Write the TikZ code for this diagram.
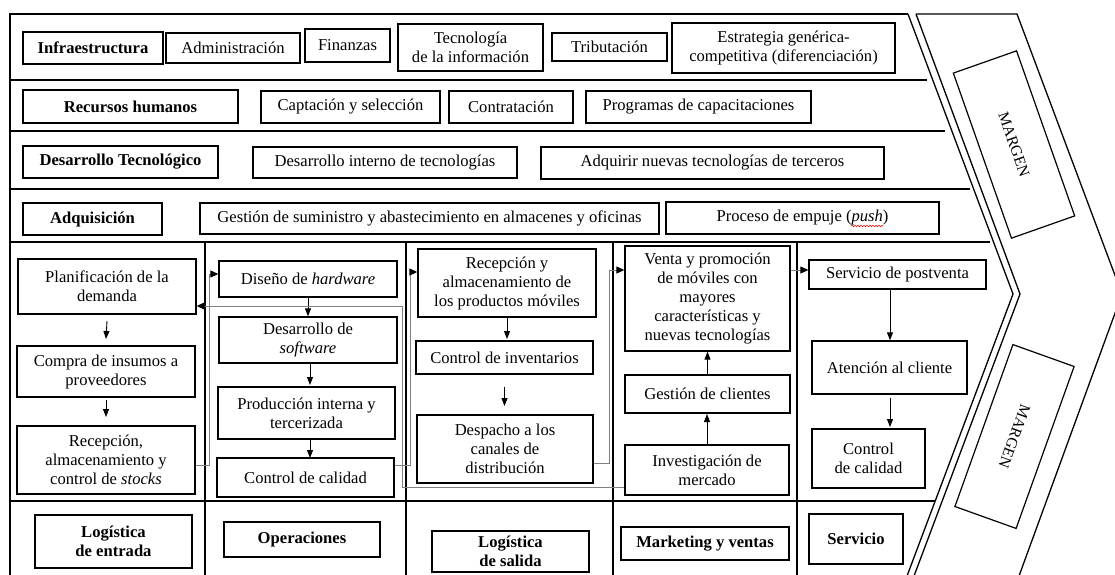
\documentclass[tikz,border=0pt]{standalone}
\usepackage{fontspec}
\setmainfont{Liberation Serif}
\usetikzlibrary{arrows.meta,decorations.pathmorphing}
\begin{document}
\begin{tikzpicture}[x=1pt,y=-1pt,
  box/.style={draw,line width=1.3pt,align=center,inner sep=0pt,font=\fontsize{16.6}{19}\selectfont},
  bbox/.style={box,font=\fontsize{16.6}{19}\selectfont\bfseries},
  frame/.style={line width=1.3pt},
  conn/.style={draw=gray,line width=1pt,-{Triangle[length=8pt,width=7pt,color=black]}},
  arr/.style={line width=0.9pt,-{Triangle[length=8pt,width=6pt]}},
  mbox/.style={draw,line width=1.2pt,inner sep=0pt,font=\fontsize{15.5}{18}\selectfont}
]
\useasboundingbox (0,0) rectangle (1115,574);
\clip (0,0) rectangle (1115,574);

% frame
\draw[frame] (908,14) -- (10,14) -- (10,576);
\draw[frame] (908,14) -- (1013,294) -- (907,576);
\draw[frame] (916,14) -- (1020,294) -- (914,576);
\draw[frame] (916,14) -- (1017,14) -- (1122,294) -- (1019,576);
\foreach \yy/\xe in {80/927,131/945,189/970,242/990,501/935}
  \draw[frame] (10,\yy) -- (\xe,\yy);
\foreach \xx in {205,406,613,797}
  \draw[frame] (\xx,242) -- (\xx,576);

% support activities
\node[bbox,minimum width=140,minimum height=32] (infra) at (93,48) {Infraestructura};
\node[box,minimum width=134,minimum height=30] (admin) at (233,48) {Administración};
\node[box,minimum width=85,minimum height=33] (fin) at (347.5,45.5) {Finanzas};
\node[box,minimum width=145,minimum height=47] (tec) at (470.5,47.5) {Tecnología\\de la información};
\node[box,minimum width=115,minimum height=28] (trib) at (609.5,47) {Tributación};
\node[box,minimum width=223,minimum height=50] (estr) at (783.5,48) {Estrategia genérica-\\competitiva (diferenciación)};

\node[bbox,minimum width=215,minimum height=33] (rh) at (130.5,106.5) {Recursos humanos};
\node[box,minimum width=179,minimum height=32] (capt) at (350.5,107) {Captación y selección};
\node[box,minimum width=124,minimum height=32] (contr) at (511,107) {Contratación};
\node[box,minimum width=225,minimum height=32] (prog) at (698.5,107) {Programas de capacitaciones};

\node[bbox,minimum width=195,minimum height=32] (dt) at (120.5,162) {Desarrollo Tecnológico};
\node[box,minimum width=264,minimum height=31] (dint) at (385,162.5) {Desarrollo interno de tecnologías};
\node[box,minimum width=343,minimum height=32] (adqt) at (712.5,163) {Adquirir nuevas tecnologías de terceros};

\node[bbox,minimum width=139,minimum height=32] (adq) at (92.5,219) {Adquisición};
\node[box,minimum width=459,minimum height=31] (gest) at (429.5,218.5) {Gestión de suministro y abastecimiento en almacenes y oficinas};
\node[box,minimum width=273,minimum height=32] (push) at (802.5,218) {Proceso de empuje (\textit{push})};
\draw[red,line width=0.6pt,decorate,decoration={snake,amplitude=0.7pt,segment length=3pt}] (851,226) -- (883,226);

% primary activities
\node[box,minimum width=178,minimum height=55] (plan) at (107,286.5) {Planificación de la\\demanda};
\node[box,minimum width=178,minimum height=51] (compra) at (106,371.5) {Compra de insumos a\\proveedores};
\node[box,minimum width=178,minimum height=68] (recep1) at (106,460) {Recepción,\\almacenamiento y\\control de \textit{stocks}};

\node[box,minimum width=178,minimum height=36] (dis) at (308,279) {Diseño de \textit{hardware}};
\node[box,minimum width=178,minimum height=46] (soft) at (308,340) {Desarrollo de\\\textit{software}};
\node[box,minimum width=177,minimum height=52] (prod) at (306.5,413) {Producción interna y\\tercerizada};
\node[box,minimum width=177,minimum height=39] (cc2) at (305.5,477.5) {Control de calidad};

\node[box,minimum width=178,minimum height=68] (recep3) at (507,283) {Recepción y\\almacenamiento de\\los productos móviles};
\node[box,minimum width=177,minimum height=33] (inv) at (504.5,357.5) {Control de inventarios};
\node[box,minimum width=176,minimum height=68] (desp) at (505,449) {Despacho a los\\canales de\\distribución};

\node[box,minimum width=165,minimum height=105] (venta) at (707.5,298.5) {Venta y promoción\\de móviles con\\mayores\\características y\\nuevas tecnologías};
\node[box,minimum width=165,minimum height=38] (gcli) at (707.5,394) {Gestión de clientes};
\node[box,minimum width=164,minimum height=50] (inves) at (707,470) {Investigación de\\mercado};

\node[box,minimum width=177,minimum height=29] (post) at (897.5,274.5) {Servicio de postventa};
\node[box,minimum width=155,minimum height=53] (aten) at (889.5,367.5) {Atención al cliente};
\node[box,minimum width=113,minimum height=59] (cc5) at (868.5,458.5) {Control\\de calidad};

% bottom labels
\node[bbox,minimum width=157,minimum height=53] (le) at (113.5,541.5) {Logística\\de entrada};
\node[bbox,minimum width=156,minimum height=35] (op) at (302,539.5) {Operaciones};
\node[bbox,minimum width=157,minimum height=41] (ls) at (510.5,551.5) {Logística\\de salida};
\node[bbox,minimum width=168,minimum height=33] (mv) at (705,543.5) {Marketing y ventas};
\node[bbox,minimum width=94,minimum height=50] (serv) at (856,539) {Servicio};

% margin boxes
\node[mbox,rotate=-70.6,minimum width=175,minimum height=67] (m1) at (1014,144.5) {MARGEN};
\node[mbox,rotate=-109.7,minimum width=172,minimum height=65] (m2) at (1014.5,436.5) {MARGEN};

% arrows inside columns
\draw[arr] (plan.south |- 0,321) -- (compra.north |- 0,339);
\draw[arr] (compra.south |- 0,400) -- (recep1.north |- 0,417);
\draw[arr] (dis.south) -- (soft.north);
\draw[arr] (310,363) -- (310,385);
\draw[arr] (310,439) -- (310,458);
\draw[arr] (recep3.south) -- (507,339);
\draw[arr] (inv.south |- 0,387) -- (inv.south |- 0,406);
\draw[arr] (gcli.north) -- (venta.south);
\draw[arr] (inves.north |- 0,445) -- (inves.north |- 0,414);
\draw[arr] (post.south -| 890,0) -- (aten.north -| 890,0);
\draw[arr] (890,398) -- (890,427);

% connectors between columns
\draw[conn] (recep1.east |- 0,465) -| (209,274) -- (dis.west |- 0,274);
\draw[conn] (cc2.east |- 0,465) -| (410,272) -- (recep3.west |- 0,272);
\draw[conn] (desp.east |- 0,463) -| (609,270) -- (venta.west |- 0,270);
\draw[conn] (venta.east |- 0,270) -- (post.west |- 0,270);
\draw[conn] (inves.west |- 0,487) -| (402,306) -- (plan.east |- 0,306);
\end{tikzpicture}
\end{document}
